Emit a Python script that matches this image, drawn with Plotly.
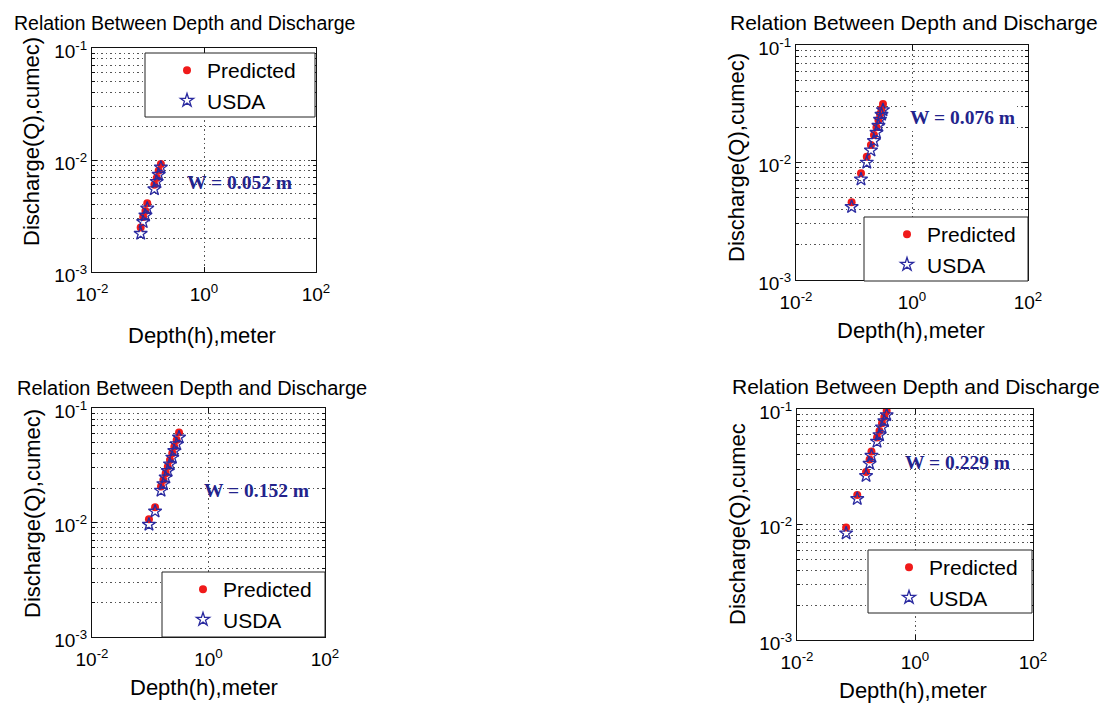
import plotly.graph_objects as go

# ---------------- data ----------------
# W = 0.052 m
depth_052 = [0.074, 0.082, 0.090, 0.097, 0.130, 0.143, 0.155, 0.170]
pred_052 = [0.0025, 0.0031, 0.0035, 0.0041, 0.0060, 0.0069, 0.0080, 0.0092]
usda_052 = [0.0022, 0.0028, 0.0032, 0.0037, 0.0055, 0.0064, 0.0074, 0.0086]

# W = 0.076 m
depth_076 = [0.091, 0.132, 0.166, 0.196, 0.221, 0.244, 0.264, 0.281, 0.298, 0.316]
pred_076 = [0.0046, 0.0081, 0.0112, 0.0141, 0.0171, 0.0200, 0.0230, 0.0259, 0.0285, 0.0315]
usda_076 = [0.0042, 0.0072, 0.0100, 0.0127, 0.0153, 0.0180, 0.0206, 0.0232, 0.0256, 0.0280]

# W = 0.152 m
depth_152 = [0.095, 0.121, 0.153, 0.168, 0.184, 0.200, 0.218, 0.239, 0.259, 0.284, 0.312]
pred_152 = [0.0107, 0.0136, 0.0206, 0.0235, 0.0269, 0.0307, 0.0351, 0.0402, 0.0459, 0.0526, 0.0610]
usda_152 = [0.0096, 0.0125, 0.0190, 0.0217, 0.0248, 0.0283, 0.0323, 0.0370, 0.0422, 0.0484, 0.0555]

# W = 0.229 m
depth_229 = [0.068, 0.105, 0.148, 0.170, 0.183, 0.227, 0.250, 0.276, 0.302, 0.331]
pred_229 = [0.0094, 0.0180, 0.0285, 0.0365, 0.0428, 0.0567, 0.0645, 0.0752, 0.0853, 0.0961]
usda_229 = [0.0084, 0.0167, 0.0264, 0.0337, 0.0395, 0.0523, 0.0596, 0.0694, 0.0788, 0.0888]

series_names = ["Predicted", "USDA"]
width_labels = ["W = 0.052 m", "W = 0.076 m", "W = 0.152 m", "W = 0.229 m"]
chart_title = "Relation Between Depth and Discharge"
x_title = "Depth(h),meter"
y_titles = ["Discharge(Q),cumec)", "Discharge(Q),cumec)", "Discharge(Q),cumec)", "Discharge(Q),cumec"]
x_tickvals = [0.01, 1, 100]
x_ticktext = ["10<sup>-2</sup>", "10<sup>0</sup>", "10<sup>2</sup>"]
y_tickvals = [0.001, 0.01, 0.1]
y_ticktext = ["10<sup>-3</sup>", "10<sup>-2</sup>", "10<sup>-1</sup>"]
y_minor_vals = [m * 10.0 ** e for e in (-3, -2) for m in range(2, 10)]

# ---------------- layout geometry (pixels) ----------------
W, H = 1114, 704
panels = [
    dict(h=depth_052, qp=pred_052, qu=usda_052, box=(92, 48, 316, 272),
         title=(12, 23, 19.5), xt=(202, 335), yt=(32, 142), wl=(185, 182, False),
         leg=(145, 53, 315, 117), legtext=207),
    dict(h=depth_076, qp=pred_076, qu=usda_076, box=(796, 45, 1028, 280),
         title=(728, 22, 21), xt=(911, 330), yt=(737, 158), wl=(908, 117, True),
         leg=(864, 217, 1028, 281), legtext=927),
    dict(h=depth_152, qp=pred_152, qu=usda_152, box=(92, 408, 325, 637),
         title=(15, 388, 20), xt=(204, 687), yt=(32, 514), wl=(202, 491, False),
         leg=(162, 572, 325, 637), legtext=223),
    dict(h=depth_229, qp=pred_229, qu=usda_229, box=(797, 409, 1033, 640),
         title=(730, 386, 21), xt=(913, 690), yt=(737, 524), wl=(903, 462, False),
         leg=(868, 550, 1032, 613), legtext=929),
]

def fx(px):
    return px / W

def fy(py):
    return 1 - py / H

FONT = "Liberation Sans, Arial, sans-serif"
GRID = "#555"
DOT = "1.5px,3px"
fig = go.Figure()
annotations = []
shapes = []
layout = dict(width=W, height=H, margin=dict(l=0, r=0, t=0, b=0, autoexpand=False),
              paper_bgcolor="white", plot_bgcolor="white", showlegend=True)

for i, p in enumerate(panels):
    n = "" if i == 0 else str(i + 1)
    xa, ya = "x" + n, "y" + n
    lg = "legend" + n
    fig.add_trace(go.Scatter(
        x=p["h"], y=p["qp"], mode="markers", name=series_names[0],
        marker=dict(symbol="circle", size=8, color="#f01a1a"),
        xaxis=xa, yaxis=ya, legend=lg))
    fig.add_trace(go.Scatter(
        x=p["h"], y=p["qu"], mode="markers", name=series_names[1],
        marker=dict(symbol="star-open", size=10, color="#2a2aa0",
                    line=dict(width=1.3, color="#2a2aa0")),
        xaxis=xa, yaxis=ya, legend=lg))

    x0, y0, x1, y1 = p["box"]
    common = dict(showline=True, linecolor="#111", linewidth=1, mirror="ticks",
                  ticks="inside", ticklen=5, tickcolor="#111",
                  showgrid=True, gridcolor=GRID, griddash=DOT, gridwidth=1,
                  zeroline=False, tickfont=dict(family=FONT, size=19, color="black"))
    layout["xaxis" + n] = dict(common, type="log", range=[-2, 2],
                               domain=[fx(x0), fx(x1)], anchor=ya, ticklabelstandoff=5,
                               tickmode="array", tickvals=x_tickvals, ticktext=x_ticktext)
    layout["yaxis" + n] = dict(common, type="log", range=[-3, -1],
                               domain=[fy(y1), fy(y0)], anchor=xa, ticklabelshift=3,
                               tickmode="array", tickvals=y_tickvals, ticktext=y_ticktext,
                               minor=dict(tickmode="array", tickvals=y_minor_vals,
                                          showgrid=True, gridcolor=GRID, griddash=DOT,
                                          gridwidth=1, ticks="inside", ticklen=3,
                                          tickcolor="#111"))

    # legend box
    lx0, ly0, lx1, ly1 = p["leg"]
    shapes.append(dict(type="rect", xref="paper", yref="paper",
                       x0=fx(lx0), x1=fx(lx1), y0=fy(ly1), y1=fy(ly0),
                       fillcolor="white", line=dict(color="#222", width=1), layer="above"))
    layout[lg] = dict(x=fx(p["legtext"] - 40), y=fy(ly0 - 3), xanchor="left", yanchor="top",
                      bgcolor="rgba(0,0,0,0)", borderwidth=0,
                      font=dict(family=FONT, size=21, color="black"))

    # title
    tx, ty, ts = p["title"]
    annotations.append(dict(text=chart_title, x=fx(tx), y=fy(ty), xref="paper", yref="paper",
                            xanchor="left", yanchor="middle", showarrow=False,
                            font=dict(family=FONT, size=ts, color="black")))
    # axis titles
    annotations.append(dict(text=x_title, x=fx(p["xt"][0]), y=fy(p["xt"][1]),
                            xref="paper", yref="paper", xanchor="center", yanchor="middle",
                            showarrow=False, font=dict(family=FONT, size=22, color="black")))
    annotations.append(dict(text=y_titles[i], x=fx(p["yt"][0]), y=fy(p["yt"][1]),
                            xref="paper", yref="paper", xanchor="center", yanchor="middle",
                            textangle=-90, showarrow=False,
                            font=dict(family=FONT, size=22, color="black")))
    # width label
    wx, wy, bg = p["wl"]
    annotations.append(dict(text="<b>" + width_labels[i] + "</b>", x=fx(wx), y=fy(wy),
                            xref="paper", yref="paper", xanchor="left", yanchor="middle",
                            showarrow=False, bgcolor="white" if bg else None,
                            font=dict(family="Liberation Serif, Times New Roman, serif",
                                      size=19.5, color="#23238c")))

layout["annotations"] = annotations
layout["shapes"] = shapes
fig.update_layout(**layout)
fig.write_html("out.html", config={"displayModeBar": False},
               post_script="document.body.style.margin='0px';document.body.style.overflow='hidden';")
